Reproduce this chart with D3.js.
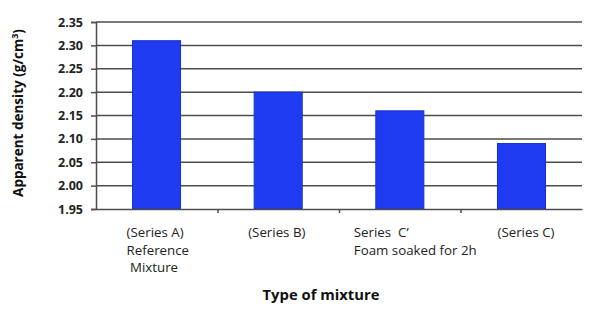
<!DOCTYPE html>
<html>
<head>
<meta charset="utf-8">
<script src="https://cdn.jsdelivr.net/npm/d3@7"></script>
<style>
  body { margin: 0; background: #fff; }
  text { font-family: "Open Sans", sans-serif; }
</style>
</head>
<body>
<div id="chart"></div>
<script>
// data
const categories = ["A", "B", "C'", "C"];
const densities = [2.31, 2.20, 2.16, 2.09];
const labelLines = [
    ["(Series A)", "Reference", " Mixture"],
    ["(Series B)"],
    ["Series  C\u2019", "Foam soaked for 2h"],
    ["(Series C)"]
];
const yTicks = [1.95, 2.00, 2.05, 2.10, 2.15, 2.20, 2.25, 2.30, 2.35];

function drawChart() {
    const width = 600, height = 316;
    const margin = {top: 22, right: 18, bottom: 107, left: 96};

    const svg = d3.select("#chart")
        .append("svg")
        .attr("width", width)
        .attr("height", height);

    const x = d3.scaleBand()
        .domain(categories)
        .range([margin.left, width - margin.right])
        .paddingInner(0.605)
        .paddingOuter(0.3);

    const y = d3.scaleLinear()
        .domain([1.95, 2.35])
        .range([height - margin.bottom, margin.top]);

    // gridlines
    svg.append("g")
        .selectAll("line")
        .data(yTicks.slice(1))
        .enter()
        .append("line")
        .attr("x1", margin.left)
        .attr("x2", width - margin.right)
        .attr("y1", d => y(d))
        .attr("y2", d => y(d))
        .attr("stroke", "#4d4d4d")
        .attr("stroke-width", 1.5);

    // bars
    svg.append("g")
        .selectAll("rect")
        .data(densities)
        .enter()
        .append("rect")
        .attr("x", (d, i) => x(categories[i]))
        .attr("y", d => y(d))
        .attr("width", x.bandwidth())
        .attr("height", d => y(1.95) - y(d))
        .attr("fill", "#1f3cf2")
        .attr("stroke", "#1533c8")
        .attr("stroke-width", 1);

    // y axis
    const yAxis = svg.append("g")
        .attr("transform", `translate(${margin.left},0)`)
        .call(d3.axisLeft(y).tickValues(yTicks).tickFormat(d3.format(".2f")).tickSize(5).tickPadding(8));
    yAxis.select(".domain").attr("stroke", "#4d4d4d").attr("stroke-width", 1.5);
    yAxis.selectAll(".tick line").attr("stroke", "#4d4d4d").attr("stroke-width", 1.5);
    yAxis.selectAll(".tick text")
        .style("font-family", "'Open Sans', sans-serif")
        .style("font-size", "12.5px")
        .style("font-weight", "bold")
        .attr("fill", "#222");

    // x axis: baseline and ticks between categories
    const x0 = d3.scaleLinear().domain([0, categories.length]).range([margin.left, width - margin.right]);
    const xAxis = svg.append("g")
        .attr("transform", `translate(0,${y(1.95)})`)
        .call(d3.axisBottom(x0).tickValues([1, 2, 3]).tickFormat("").tickSize(4).tickSizeOuter(0));
    xAxis.select(".domain").attr("stroke", "#4d4d4d").attr("stroke-width", 1.5);
    xAxis.selectAll(".tick line").attr("stroke", "#4d4d4d").attr("stroke-width", 1.5);

    // category labels (left aligned blocks)
    const labelShift = [-30, -30, -46, -24];
    const labels = svg.append("g");
    labelLines.forEach(function(lines, i) {
        const lx = x(categories[i]) + x.bandwidth() / 2 + labelShift[i];
        const t = labels.append("text")
            .attr("x", lx)
            .attr("y", 237)
            .attr("font-size", "13.3px")
            .attr("fill", "#222")
            .style("white-space", "pre");
        t.selectAll("tspan")
            .data(lines)
            .enter()
            .append("tspan")
            .attr("x", lx)
            .attr("dy", (d, j) => j === 0 ? 0 : 17.5)
            .text(d => d);
    });

    // axis titles
    svg.append("text")
        .attr("x", 321)
        .attr("y", 300)
        .attr("text-anchor", "middle")
        .attr("font-size", "14.8px")
        .attr("font-weight", "bold")
        .attr("fill", "#111")
        .text("Type of mixture");

    svg.append("text")
        .attr("transform", `translate(23,113) rotate(-90)`)
        .attr("text-anchor", "middle")
        .attr("font-size", "13.5px")
        .attr("font-weight", "bold")
        .attr("fill", "#111")
        .html("Apparent density (g/cm<tspan dy='-5' font-size='9px'>3</tspan><tspan dy='5'>)</tspan>");
}

drawChart();
</script>
</body>
</html>
